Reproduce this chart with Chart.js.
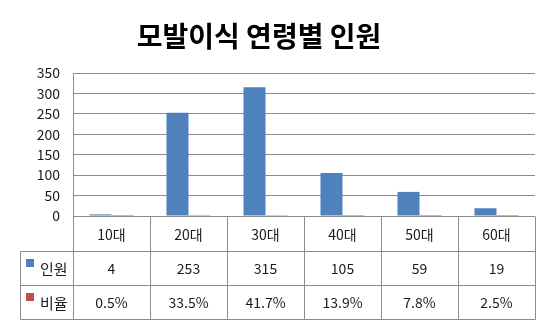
<!DOCTYPE html>
<html>
<head>
<meta charset="utf-8">
<script src="https://cdn.jsdelivr.net/npm/chart.js@4/dist/chart.umd.min.js"></script>
<style>
  html, body { margin: 0; padding: 0; background: #ffffff; }
  #wrap { width: 550px; height: 327px; position: relative; }
</style>
</head>
<body>
<div id="wrap"><canvas id="c"></canvas></div>
<script>
// Hair transplant patients by age group
const chartTitle = '모발이식 연령별 인원';
const categories = ['10대', '20대', '30대', '40대', '50대', '60대'];
const seriesNames = ['인원', '비율'];
const headcount = [4, 253, 315, 105, 59, 19];
const ratioPercent = [0.5, 33.5, 41.7, 13.9, 7.8, 2.5];
const yTickValues = [0, 50, 100, 150, 200, 250, 300, 350];

const seriesColors = ['#4F81BD', '#C0504D'];
const lineColor = '#8c8c8c';
const textColor = '#1a1a1a';
const fontFamily = '"Noto Sans CJK KR", "Noto Sans", sans-serif';

// Draws the title and the data table under the plot, aligned to the category scale
const dataTablePlugin = {
  id: 'dataTable',
  afterDraw(chart) {
    const ctx = chart.ctx;
    const area = chart.chartArea;
    const xs = chart.scales.x;
    const n = categories.length;
    const step = xs.getPixelForValue(1) - xs.getPixelForValue(0);
    const bounds = [];
    for (let i = 0; i < n; i++) bounds.push(xs.getPixelForValue(i) - step / 2);
    bounds.push(xs.getPixelForValue(n - 1) + step / 2);

    const tableLeft = 20;
    const rowTop = area.bottom;
    const rowEdges = [rowTop, rowTop + 35, rowTop + 69, rowTop + 103];
    const snap = v => Math.round(v) + 0.5;

    ctx.save();
    // title
    ctx.fillStyle = '#000000';
    ctx.font = 'bold 28px ' + fontFamily;
    ctx.textAlign = 'center';
    ctx.textBaseline = 'middle';
    ctx.fillText(chartTitle, 259, 36);

    // table grid
    ctx.strokeStyle = lineColor;
    ctx.lineWidth = 1;
    ctx.beginPath();
    bounds.forEach(x => {
      ctx.moveTo(snap(x), snap(rowEdges[0]));
      ctx.lineTo(snap(x), snap(rowEdges[3]));
    });
    ctx.moveTo(snap(tableLeft), snap(rowEdges[1]));
    ctx.lineTo(snap(tableLeft), snap(rowEdges[3]));
    for (let r = 1; r <= 3; r++) {
      ctx.moveTo(snap(tableLeft), snap(rowEdges[r]));
      ctx.lineTo(snap(bounds[n]), snap(rowEdges[r]));
    }
    ctx.stroke();

    // header row: categories
    ctx.fillStyle = textColor;
    ctx.font = '14px ' + fontFamily;
    ctx.textAlign = 'center';
    const rowMid = r => (rowEdges[r] + rowEdges[r + 1]) / 2;
    categories.forEach((c, i) => ctx.fillText(c, xs.getPixelForValue(i), rowMid(0) + 1));

    // series rows
    const rows = [
      headcount.map(v => String(v)),
      ratioPercent.map(v => v.toFixed(1) + '%')
    ];
    rows.forEach((vals, r) => {
      const y = rowMid(r + 1);
      ctx.textAlign = 'center';
      ctx.fillStyle = textColor;
      vals.forEach((v, i) => ctx.fillText(v, xs.getPixelForValue(i), y + 1));
      // legend key + series name
      ctx.fillStyle = seriesColors[r];
      ctx.fillRect(26, Math.round(y) - 9, 8, 8);
      ctx.fillStyle = textColor;
      ctx.textAlign = 'left';
      ctx.font = '15px ' + fontFamily;
      ctx.fillText(seriesNames[r], 40, y + 1);
      ctx.font = '14px ' + fontFamily;
    });
    ctx.restore();
  }
};

new Chart(document.getElementById('c'), {
  type: 'bar',
  data: {
    labels: categories,
    datasets: [
      { label: seriesNames[0], data: headcount, backgroundColor: seriesColors[0] },
      { label: seriesNames[1], data: ratioPercent.map(v => v / 100), backgroundColor: seriesColors[1], inflateAmount: 0 }
    ]
  },
  options: {
    responsive: true,
    maintainAspectRatio: false,
    animation: false,
    devicePixelRatio: 1,
    layout: { padding: { top: 73, right: 15, bottom: 111, left: 0 } },
    datasets: { bar: { categoryPercentage: 0.572, barPercentage: 1.0 } },
    plugins: {
      legend: { display: false },
      title: { display: false },
      tooltip: { enabled: false }
    },
    scales: {
      x: {
        display: false,
        offset: true,
        grid: { display: false }
      },
      y: {
        min: 0,
        max: 350,
        afterBuildTicks: scale => { scale.ticks = yTickValues.map(v => ({ value: v })); },
        afterFit: scale => { scale.width = 73; },
        ticks: {
          padding: 13,
          color: textColor,
          font: { family: fontFamily, size: 14 }
        },
        grid: { color: lineColor, lineWidth: 1, drawTicks: false },
        border: { display: true, color: lineColor, width: 1 }
      }
    }
  },
  plugins: [dataTablePlugin]
});
</script>
</body>
</html>
